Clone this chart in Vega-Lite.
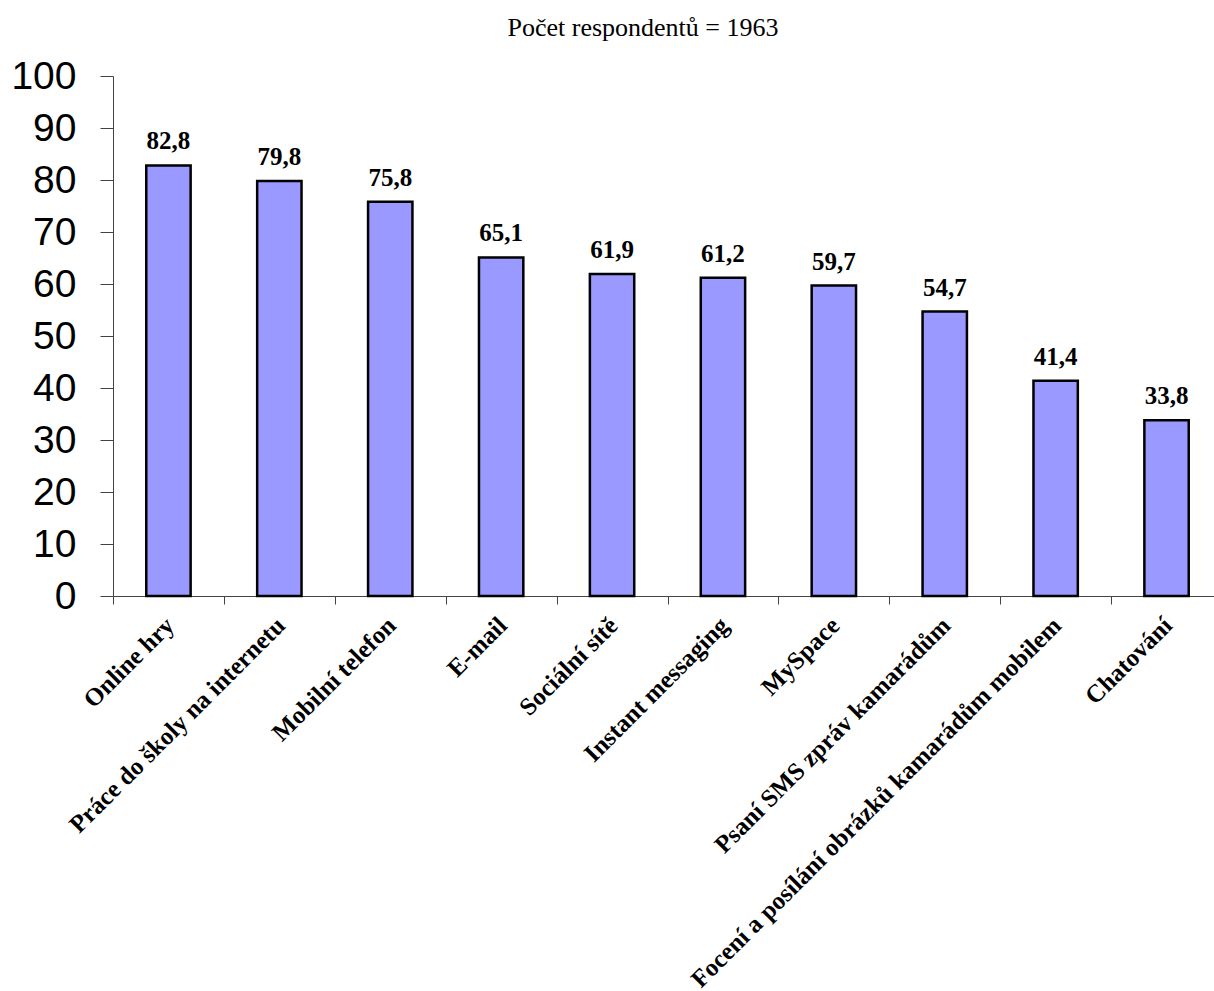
{
  "$schema": "https://vega.github.io/schema/vega-lite/v6.json",
  "autosize": "none",
  "width": 1100,
  "height": 520,
  "padding": {"left": 113, "top": 76, "right": 1, "bottom": 395},
  "background": "white",
  "title": {
    "text": "Počet respondentů = 1963",
    "font": "Liberation Serif",
    "fontSize": 26,
    "fontWeight": "normal",
    "color": "#000000",
    "anchor": "middle",
    "dx": -20,
    "offset": 16
  },
  "config": {
    "locale": {
      "number": {"decimal": ",", "thousands": " ", "grouping": [3], "currency": ["", " Kč"]}
    },
    "view": {"stroke": null}
  },
  "data": {
    "values": [
      {"cat": "Online hry", "value": 82.8},
      {"cat": "Práce do školy na internetu", "value": 79.8},
      {"cat": "Mobilní telefon", "value": 75.8},
      {"cat": "E-mail", "value": 65.1},
      {"cat": "Sociální sítě", "value": 61.9},
      {"cat": "Instant messaging", "value": 61.2},
      {"cat": "MySpace", "value": 59.7},
      {"cat": "Psaní SMS zpráv kamarádům", "value": 54.7},
      {"cat": "Focení a posílání obrázků kamarádům mobilem", "value": 41.4},
      {"cat": "Chatování", "value": 33.8}
    ]
  },
  "encoding": {
    "x": {
      "field": "cat",
      "type": "nominal",
      "sort": null,
      "scale": {"paddingInner": 0, "paddingOuter": 0, "range": [0, 1109]},
      "axis": {
        "title": null,
        "labelAngle": -45,
        "labelAlign": "right",
        "labelBaseline": "middle",
        "labelFont": "Liberation Serif",
        "labelFontWeight": "bold",
        "labelFontSize": 25,
        "labelColor": "#000000",
        "labelLimit": 0,
        "labelOffset": 1,
        "labelPadding": 17,
        "tickBand": "extent",
        "tickSize": 8,
        "tickColor": "#444444",
        "domainColor": "#444444",
        "labelOverlap": false
      }
    },
    "y": {
      "field": "value",
      "type": "quantitative",
      "scale": {"domain": [0, 100], "nice": false},
      "axis": {
        "title": null,
        "values": [0, 10, 20, 30, 40, 50, 60, 70, 80, 90, 100],
        "grid": false,
        "labelFont": "Liberation Sans",
        "labelFontSize": 39,
        "labelColor": "#000000",
        "labelPadding": 24,
        "tickSize": 13,
        "tickColor": "#444444",
        "domainColor": "#444444"
      }
    }
  },
  "layer": [
    {
      "mark": {"type": "bar", "width": {"band": 0.4}, "fill": "#9999FF", "stroke": "#000000", "strokeWidth": 2.5}
    },
    {
      "mark": {"type": "text", "font": "Liberation Serif", "fontWeight": "bold", "fontSize": 25, "baseline": "alphabetic", "dy": -16, "color": "#000000"},
      "encoding": {"text": {"field": "value", "type": "quantitative", "format": ".1f"}}
    }
  ]
}
